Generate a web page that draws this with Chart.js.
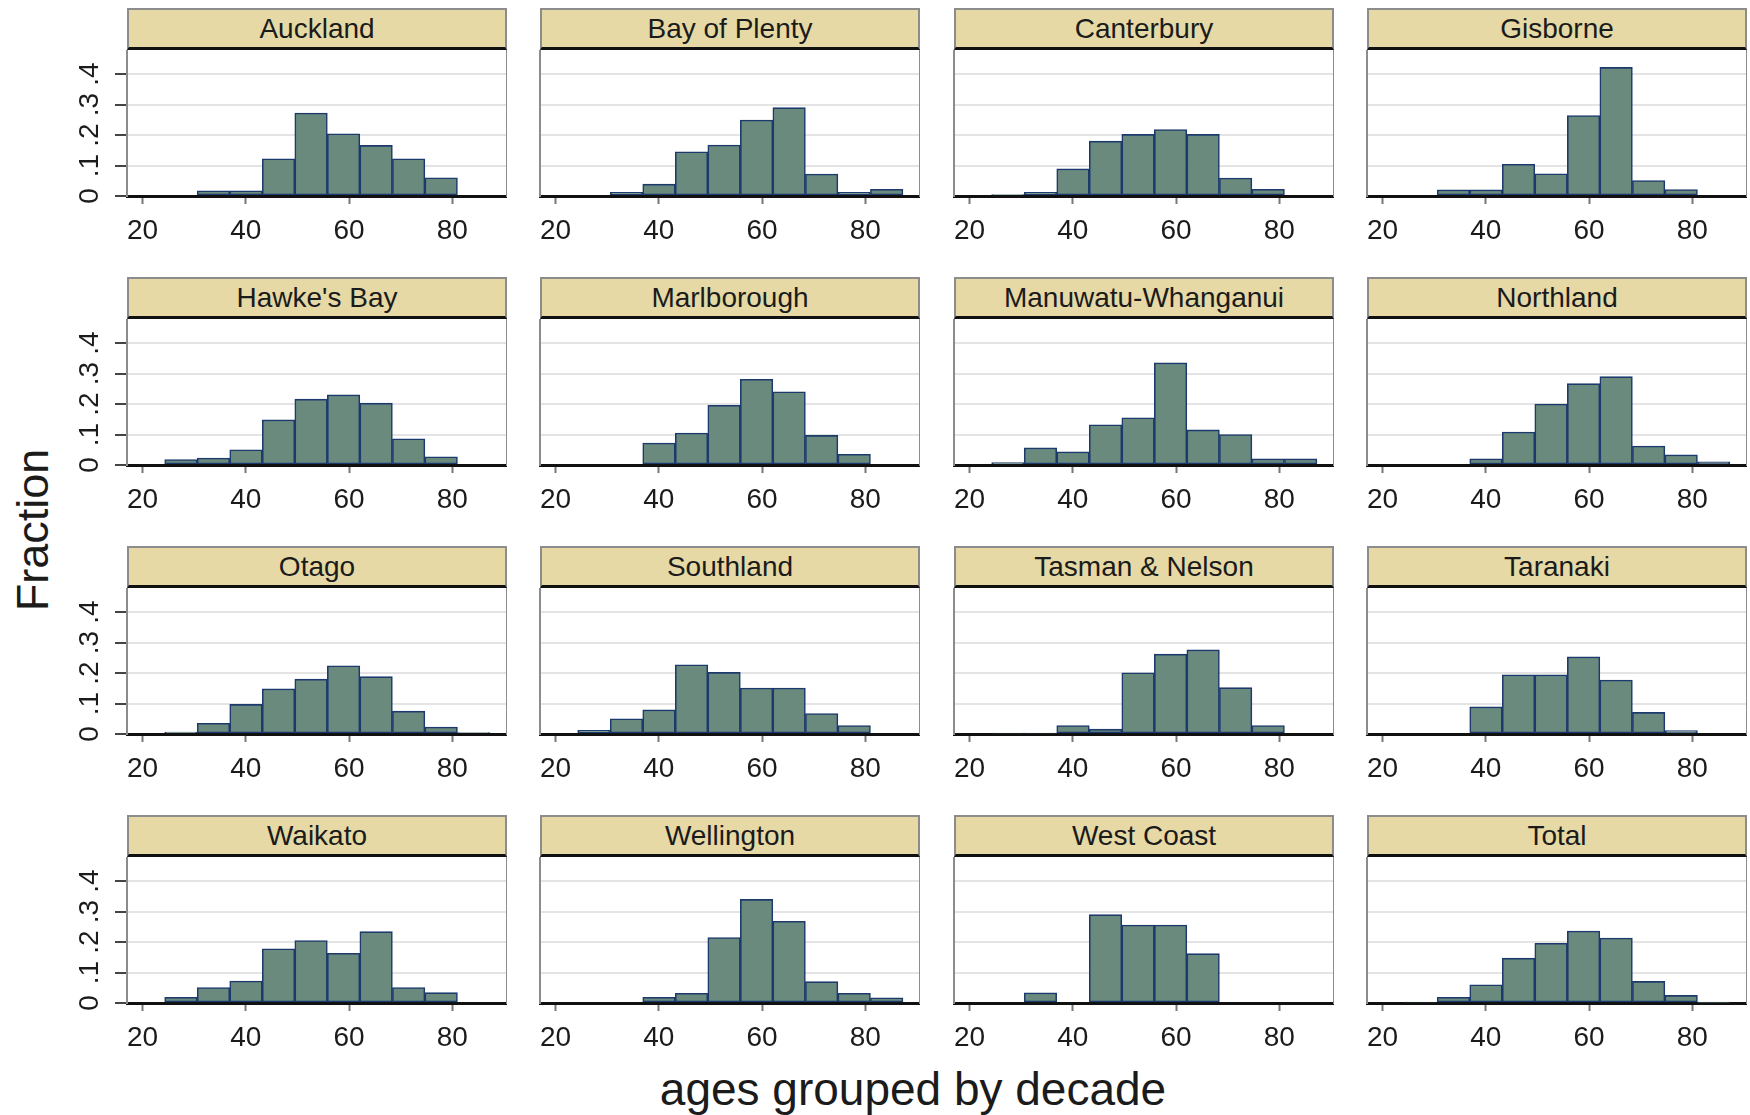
<!DOCTYPE html>
<html>
<head>
<meta charset="utf-8">
<script src="https://cdn.jsdelivr.net/npm/chart.js@4.4.1/dist/chart.umd.min.js"></script>
<style>
  body { margin: 0; background: #fff; width: 1750px; height: 1115px; position: relative; overflow: hidden;
         font-family: "Liberation Sans", Arial, sans-serif; color: #1b1b1b; }
  .head { position: absolute; box-sizing: border-box; width: 380px; height: 42px; background: #e6d9a5;
          border: 2px solid #8c8c8c; border-bottom: 3px solid #111; font-size: 28px; line-height: 37px;
          text-align: center; white-space: nowrap; }
  canvas { position: absolute; }
  .title { position: absolute; font-size: 45px; white-space: nowrap; }
</style>
</head>
<body>
<div class="title" style="left:33px; top:530px; transform: translate(-50%,-50%) rotate(-90deg);">Fraction</div>
<div class="title" style="left:913px; top:1089px; font-size:46px; transform: translate(-50%,-50%);">ages grouped by decade</div>
<script>
// bin mid points (bins of 6.3 years starting at 18)
var binMids = [21.15, 27.45, 33.75, 40.05, 46.35, 52.65, 58.95, 65.25, 71.55, 77.85, 84.15];
var xTicks = [20, 40, 60, 80];
var yTicks = [0, 0.1, 0.2, 0.3, 0.4];

var regions = ["Auckland", "Bay of Plenty", "Canterbury", "Gisborne",
               "Hawke's Bay", "Marlborough", "Manuwatu-Whanganui", "Northland",
               "Otago", "Southland", "Tasman & Nelson", "Taranaki",
               "Waikato", "Wellington", "West Coast", "Total"];

var auckland    = [0, 0, 0.017, 0.017, 0.122, 0.272, 0.204, 0.166, 0.122, 0.060, 0];
var bayOfPlenty = [0, 0, 0.012, 0.039, 0.145, 0.167, 0.249, 0.290, 0.072, 0.012, 0.022];
var canterbury  = [0, 0.005, 0.012, 0.089, 0.180, 0.202, 0.218, 0.202, 0.059, 0.022, 0];
var gisborne    = [0, 0, 0.020, 0.020, 0.104, 0.073, 0.264, 0.422, 0.051, 0.021, 0];
var hawkesBay   = [0, 0.018, 0.023, 0.050, 0.148, 0.216, 0.230, 0.203, 0.086, 0.027, 0];
var marlborough = [0, 0, 0, 0.072, 0.105, 0.196, 0.281, 0.240, 0.097, 0.035, 0];
var manuwatu    = [0, 0.008, 0.056, 0.043, 0.132, 0.155, 0.335, 0.115, 0.100, 0.020, 0.020];
var northland   = [0, 0, 0, 0.020, 0.108, 0.200, 0.267, 0.290, 0.062, 0.033, 0.010];
var otago       = [0, 0.006, 0.035, 0.097, 0.148, 0.180, 0.224, 0.188, 0.075, 0.023, 0.005];
var southland   = [0, 0.012, 0.050, 0.079, 0.227, 0.202, 0.151, 0.151, 0.067, 0.028, 0];
var tasman      = [0, 0.003, 0.003, 0.028, 0.016, 0.201, 0.262, 0.276, 0.152, 0.028, 0];
var taranaki    = [0, 0, 0, 0.089, 0.194, 0.194, 0.253, 0.177, 0.071, 0.011, 0];
var waikato     = [0, 0.019, 0.051, 0.072, 0.178, 0.205, 0.163, 0.234, 0.051, 0.034, 0];
var wellington  = [0, 0, 0, 0.019, 0.032, 0.215, 0.340, 0.268, 0.070, 0.032, 0.017];
var westCoast   = [0, 0, 0.033, 0, 0.290, 0.256, 0.256, 0.162, 0, 0, 0];
var total       = [0, 0.003, 0.019, 0.060, 0.147, 0.196, 0.236, 0.213, 0.071, 0.025, 0.002];

var fractions = [auckland, bayOfPlenty, canterbury, gisborne, hawkesBay, marlborough, manuwatu, northland,
                 otago, southland, tasman, taranaki, waikato, wellington, westCoast, total];

var colLeft = [127, 540, 954, 1367];
var panelW = 380, plotH = 146, rowStep = 269, yAxisW = 75;

Chart.defaults.font.family = '"Liberation Sans", Arial, sans-serif';
Chart.defaults.color = '#1b1b1b';

function makePanel(idx) {
  var r = Math.floor(idx / 4), c = idx % 4;
  var left = colLeft[c], top = 50 + rowStep * r;
  var first = (c === 0);

  var head = document.createElement('div');
  head.className = 'head';
  head.style.left = left + 'px';
  head.style.top = (top - 42) + 'px';
  head.textContent = regions[idx];
  document.body.appendChild(head);

  var cv = document.createElement('canvas');
  cv.width = yAxisW + panelW;
  cv.height = plotH + 56;
  cv.style.left = (left - yAxisW) + 'px';
  cv.style.top = top + 'px';
  document.body.appendChild(cv);

  var vals = fractions[idx];
  new Chart(cv, {
    type: 'bar',
    data: {
      datasets: [{
        data: binMids.map(function(m, k){ return {x: m, y: vals[k]}; }),
        backgroundColor: '#6a8a7e',
        borderColor: '#1d3a6c',
        borderWidth: 1.6,
        borderSkipped: false,
        barPercentage: 1,
        categoryPercentage: 1
      }]
    },
    options: {
      responsive: false,
      animation: false,
      devicePixelRatio: 1,
      layout: { padding: 0 },
      plugins: { legend: { display: false }, tooltip: { enabled: false } },
      scales: {
        x: {
          type: 'linear', min: 17, max: 90.6, offset: false,
          grid: { display: true, drawOnChartArea: false, offset: false, tickLength: 8, tickColor: '#777', tickWidth: 2 },
          border: { color: '#111', width: 3 },
          ticks: { font: { size: 28 }, padding: 10, maxRotation: 0, autoSkip: false },
          afterBuildTicks: function(s){ s.ticks = xTicks.map(function(v){ return {value: v}; }); },
          afterFit: function(s){ s.height = 56; s.paddingLeft = 0; s.paddingRight = 0; }
        },
        y: {
          min: 0, max: 0.479,
          grid: { color: '#e4e4e4', lineWidth: 2, drawTicks: first, tickLength: 12, tickColor: '#444', tickWidth: 2 },
          border: { color: '#8c8c8c', width: 2 },
          ticks: {
            display: first, font: { size: 28 }, minRotation: 90, maxRotation: 90, crossAlign: 'center', padding: 13,
            callback: function(v){ return v === 0 ? '0' : v.toFixed(1).replace(/^0/, ''); }
          },
          afterBuildTicks: function(s){ s.ticks = yTicks.map(function(v){ return {value: v}; }); },
          afterFit: function(s){ s.width = yAxisW; s.paddingTop = 0; s.paddingBottom = 0; }
        },
        yr: {
          position: 'right', min: 0, max: 1,
          grid: { display: false, drawTicks: false },
          border: { color: '#8c8c8c', width: 2 },
          ticks: { display: false },
          afterFit: function(s){ s.width = 0; s.paddingTop = 0; s.paddingBottom = 0; }
        }
      }
    }
  });
}

for (var i = 0; i < regions.length; i++) makePanel(i);
</script>
</body>
</html>
